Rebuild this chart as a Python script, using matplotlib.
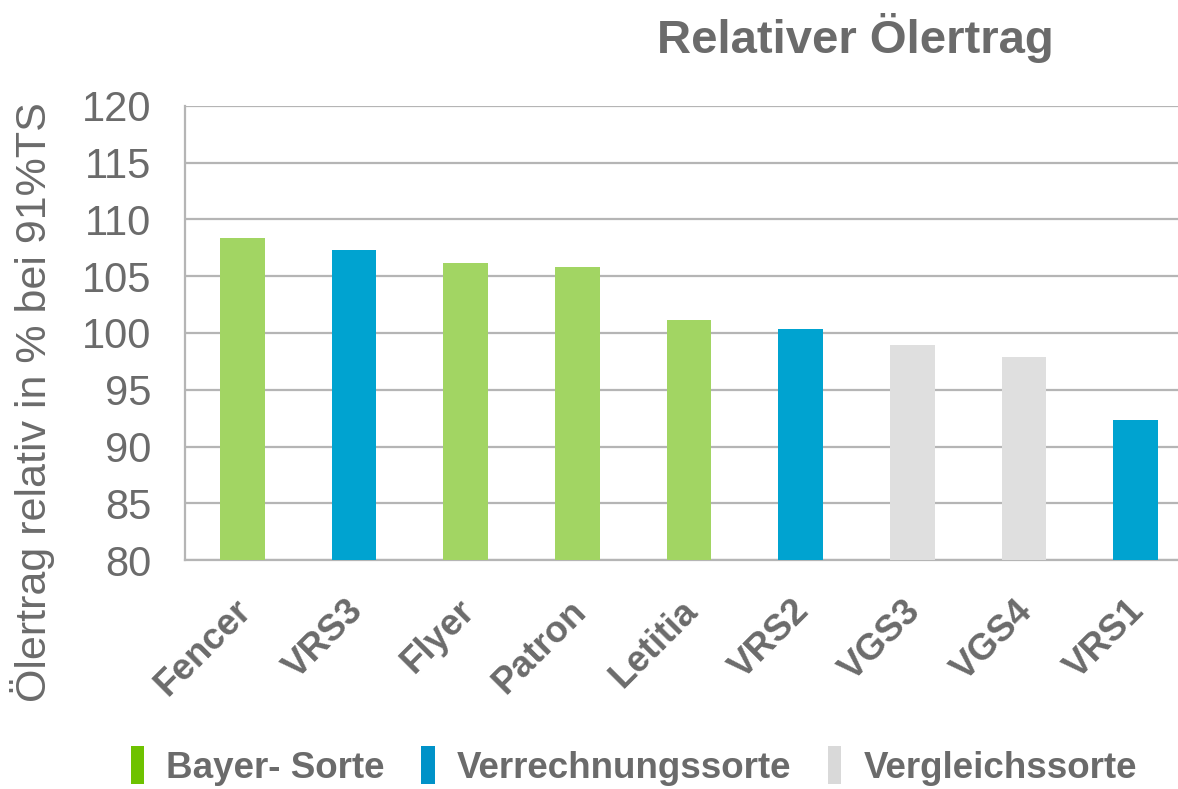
import matplotlib.pyplot as plt
import matplotlib.transforms as mtrans
from matplotlib.patches import Patch

plt.rcParams['font.family'] = ['Liberation Sans', 'DejaVu Sans']

# Daten
sorten = ["Fencer", "VRS3", "Flyer", "Patron", "Letitia", "VRS2", "VGS3", "VGS4", "VRS1"]
ertrag = [108.4, 107.3, 106.2, 105.8, 101.1, 100.35, 98.9, 97.9, 92.3]
gruppe = ["bayer", "verr", "bayer", "bayer", "bayer", "verr", "vergl", "vergl", "verr"]
legende = ["Bayer- Sorte", "Verrechnungssorte", "Vergleichssorte"]
y_ticks = [80, 85, 90, 95, 100, 105, 110, 115, 120]

GRAU = "#6b6b6b"
LINIE = "#b5b5b5"
balken_farbe = {"bayer": "#a2d563", "verr": "#00a3d0", "vergl": "#dfdfdf"}
legende_farbe = ["#6ec200", "#0092c8", "#d9d9d9"]

fig = plt.figure(figsize=(11.78, 7.89), dpi=100)
ax = fig.add_axes([0.157, 0.29, 0.843, 0.576])

x = list(range(len(sorten)))
ax.bar(x, [e - 80 for e in ertrag], bottom=80, width=0.4,
       color=[balken_farbe[g] for g in gruppe], zorder=3)

ax.set_ylim(80, 120)
ax.set_xlim(-0.515, 8.38)
ax.set_yticks(y_ticks)
ax.set_yticklabels([str(t) for t in y_ticks], fontsize=30, color=GRAU)
ax.yaxis.grid(True, color=LINIE, linewidth=1.6, zorder=0)
ax.tick_params(axis="y", length=0, pad=24)

ax.set_xticks(x)
ax.set_xticklabels(sorten, rotation=45, ha="right", va="top", rotation_mode="anchor",
                   fontsize=26.5, fontweight="bold", color=GRAU)
ax.tick_params(axis="x", length=0, pad=26)
# etwas nach links verschieben
versatz = mtrans.ScaledTranslation(-9 / 100, 3 / 100, fig.dpi_scale_trans)
for lbl in ax.get_xticklabels():
    lbl.set_transform(lbl.get_transform() + versatz)

for s in ["top", "right"]:
    ax.spines[s].set_visible(False)
for s in ["left", "bottom"]:
    ax.spines[s].set_color(LINIE)
    ax.spines[s].set_linewidth(1.6)

fig.text(0.028, 0.49, "Ölertrag relativ in % bei 91%TS", rotation=90,
         fontsize=31, color=GRAU, ha="center", va="center")
fig.text(0.726, 0.952, "Relativer Ölertrag", fontsize=34, fontweight="bold",
         color=GRAU, ha="center", va="center")

handles = [Patch(facecolor=c, edgecolor="none") for c in legende_farbe]
leg = fig.legend(handles, legende, loc="center", bbox_to_anchor=(0.538, 0.029),
                 ncol=3, frameon=False, handlelength=0.36, handleheight=1.2,
                 handletextpad=0.6, columnspacing=1.0,
                 prop={"size": 26.5, "weight": "bold"})
for t in leg.get_texts():
    t.set_color(GRAU)

plt.savefig("out.png")
